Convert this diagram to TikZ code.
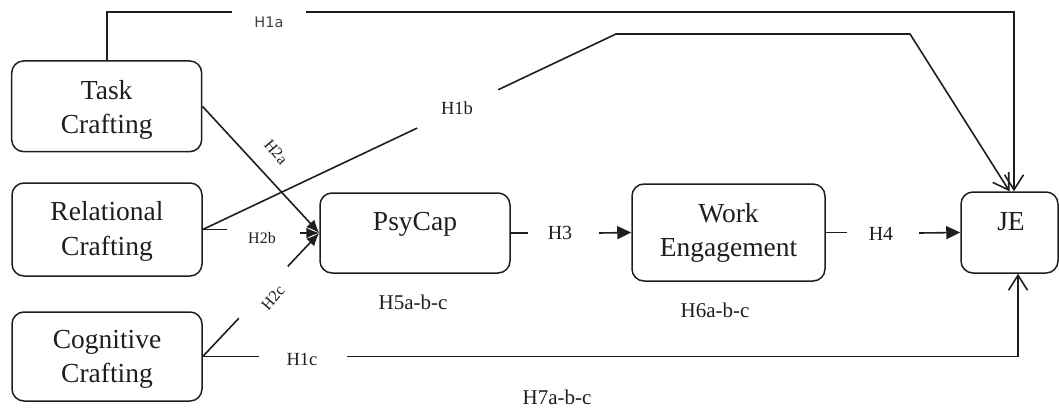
\documentclass[tikz,border=0pt]{standalone}
\usepackage{fontspec}
\setmainfont{Liberation Serif}
\newfontfamily\labsans{DejaVu Sans}
\usetikzlibrary{arrows.meta,calc}
\definecolor{ink}{HTML}{1E1E1E}
\begin{document}
\begin{tikzpicture}[x=1pt,y=-1pt,
  box/.style={draw=ink, line width=1.5pt, rounded corners=12pt, inner sep=0pt},
  boxtxt/.style={font=\fontsize{27.5}{34.5}\selectfont, align=center, inner sep=0pt, text=ink},
  conn/.style={draw=ink, line width=1.6pt},
  fillarr/.style={conn, -{Triangle[length=14pt,width=13pt]}},
  blobarr/.style={conn, -{Latex[length=13pt,width=11pt]}},
  openarr/.style={conn, -{Straight Barb[length=15pt,width=19pt]}},
  hsans/.style={font=\labsans\fontsize{14.5}{16}\selectfont, text=ink!85, inner sep=0pt},
  hsm/.style={font=\fontsize{16}{18}\selectfont, inner sep=0pt, text=ink},
  hmid/.style={font=\fontsize{18.5}{20}\selectfont, inner sep=0pt, text=ink},
  hbig/.style={font=\fontsize{20}{22}\selectfont, inner sep=0pt, text=ink},
  hlab/.style={font=\fontsize{21}{23}\selectfont, inner sep=0pt, text=ink}
]
\useasboundingbox (0,0) rectangle (1059,407);

% boxes
\node[box, minimum width=190pt, minimum height=90.7pt] (task) at (106.7,106.3) {};
\node[box, minimum width=190pt, minimum height=93pt] (rel) at (107,229.5) {};
\node[box, minimum width=190pt, minimum height=89pt] (cog) at (107,356.5) {};
\node[box, minimum width=190pt, minimum height=80pt] (psy) at (415,233) {};
\node[box, minimum width=193pt, minimum height=97pt] (work) at (728.5,232.5) {};
\node[box, minimum width=97pt, minimum height=81pt] (je) at (1009.5,232.5) {};

% box texts
\node[boxtxt] (taskT) at (106.7,110) {Task\\Crafting};
\node[boxtxt] (relT) at (107,231.6) {Relational\\Crafting};
\node[boxtxt] (cogT) at (107,359.4) {Cognitive\\Crafting};
\node[boxtxt, anchor=base] (psyT) at (415,230) {PsyCap};
\node[boxtxt] (workT) at (728.5,233) {Work\\Engagement};
\node[boxtxt, anchor=base] (jeT) at (1011,230) {JE};

% H1a
\coordinate (a1) at (232,12);
\coordinate (a2) at (306,12);
\coordinate (a3) at (1014,12);
\draw[conn] (task.north) |- (a1);
\draw[openarr] (a2) -- (a3) -- (a3 |- je.north);

% H1b
\coordinate (b1) at (616,34);
\coordinate (b2) at (910,34);
\draw[conn] (rel.east) -- ($(rel.east)!0.519!(b1)$);
\draw[openarr] ($(rel.east)!0.715!(b1)$) -- (b1) -- (b2) -- (je.north);

% H1c
\coordinate (c1) at (347,356.5);
\coordinate (c2) at (1018,356.5);
\draw[conn] (cog.east) -- ++(56,0);
\draw[openarr] (c1) -- (c2) -- (c2 |- je.south);

% H2a
\draw[blobarr] (task.east) -- (psy.west);
% H2b
\coordinate (d1) at (300,233);
\draw[conn] (rel.east) -- ++(24,0);
\draw[blobarr] (d1) -- (psy.west);
% H2c
\draw[conn] (cog.east) -- ($(cog.east)!0.31!(psy.west)$);
\draw[blobarr] ($(cog.east)!0.73!(psy.west)$) -- (psy.west);

% H3
\coordinate (e1) at (599,233);
\draw[conn] (psy.east) -- ++(17,0);
\draw[fillarr] (e1) -- (work.west);
% H4
\coordinate (f1) at (919,233);
\draw[conn] (work.east) -- ++(21,0);
\draw[fillarr] (f1) -- (je.west);

% labels
\node[hsans] (lH1a) at (269,22) {H1a};
\node[hmid] (lH1b) at (457,108) {H1b};
\node[hmid] (lH1c) at (302,359) {H1c};
\node[hsm, rotate=-50] (lH2a) at (276,152) {H2a};
\node[hsm] (lH2b) at (262,238) {H2b};
\node[hsm, rotate=50] (lH2c) at (273,298) {H2c};
\node[hbig] (lH3) at (560,233) {H3};
\node[hbig] (lH4) at (881,234) {H4};
\node[hlab] (lH5) at (413,302) {H5a-b-c};
\node[hlab] (lH6) at (715,310) {H6a-b-c};
\node[hlab] (lH7) at (557,397) {H7a-b-c};
\end{tikzpicture}
\end{document}
